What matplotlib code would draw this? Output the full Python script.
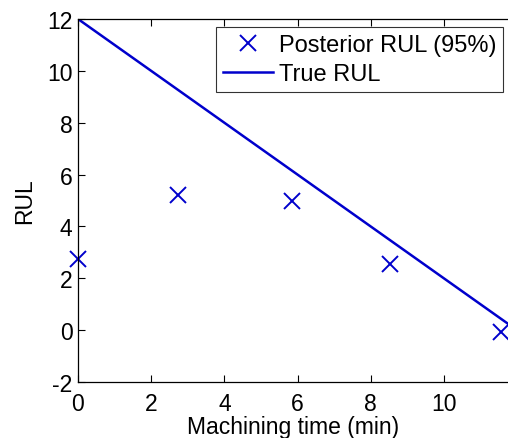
import numpy as np
import matplotlib.pyplot as plt

# posterior RUL estimates
t_post = [0, 2.73, 5.84, 8.52, 11.56]
rul_post = [2.75, 5.2, 5.0, 2.57, -0.09]

# true RUL line
t_true = [0, 12]
rul_true = [12, 0]

xticks = [0, 2, 4, 6, 8, 10]
yticks = [-2, 0, 2, 4, 6, 8, 10, 12]

plt.rcParams['font.family'] = ['Liberation Sans', 'DejaVu Sans']
plt.rcParams['axes.unicode_minus'] = False

fig = plt.figure(figsize=(5.08, 4.39), dpi=100)
W, H = 508, 439
left, right, top, bottom = 78, 517, 20, 383
ax = fig.add_axes([left / W, 1 - bottom / H, (right - left) / W, (bottom - top) / H])

blue = '#0000cc'
ax.plot(t_post, rul_post, 'x', color=blue, markersize=12, markeredgewidth=1.4,
        label='Posterior RUL (95%)', clip_on=False)
ax.plot(t_true, rul_true, '-', color=blue, linewidth=1.8, label='True RUL')

ax.set_xlim(0, 12)
ax.set_ylim(-2, 12)
ax.set_xticks(xticks)
ax.set_yticks(yticks)
ax.tick_params(direction='in', length=5, labelsize=16.5, top=True, right=True,
               width=0.8)
ax.tick_params(axis='x', pad=7)
ax.tick_params(axis='y', pad=4)
for s in ax.spines.values():
    s.set_linewidth(0.9)

ax.set_xlabel('Machining time (min)', fontsize=16.5)
ax.xaxis.set_label_coords((293 - left) / (right - left), (bottom - 416) / (bottom - top))
ax.set_ylabel('RUL', fontsize=16.5, labelpad=8)

leg = ax.legend(loc='upper left', bbox_to_anchor=((216 - left) / (right - left), 1 - (28 - top) / (bottom - top)),
                fontsize=17, frameon=True, fancybox=False, edgecolor='black',
                handlelength=2.1, handletextpad=0.25, borderpad=0.3, labelspacing=0.3,
                borderaxespad=0)
leg.get_frame().set_linewidth(0.8)

fig.savefig('out.png', dpi=100)
